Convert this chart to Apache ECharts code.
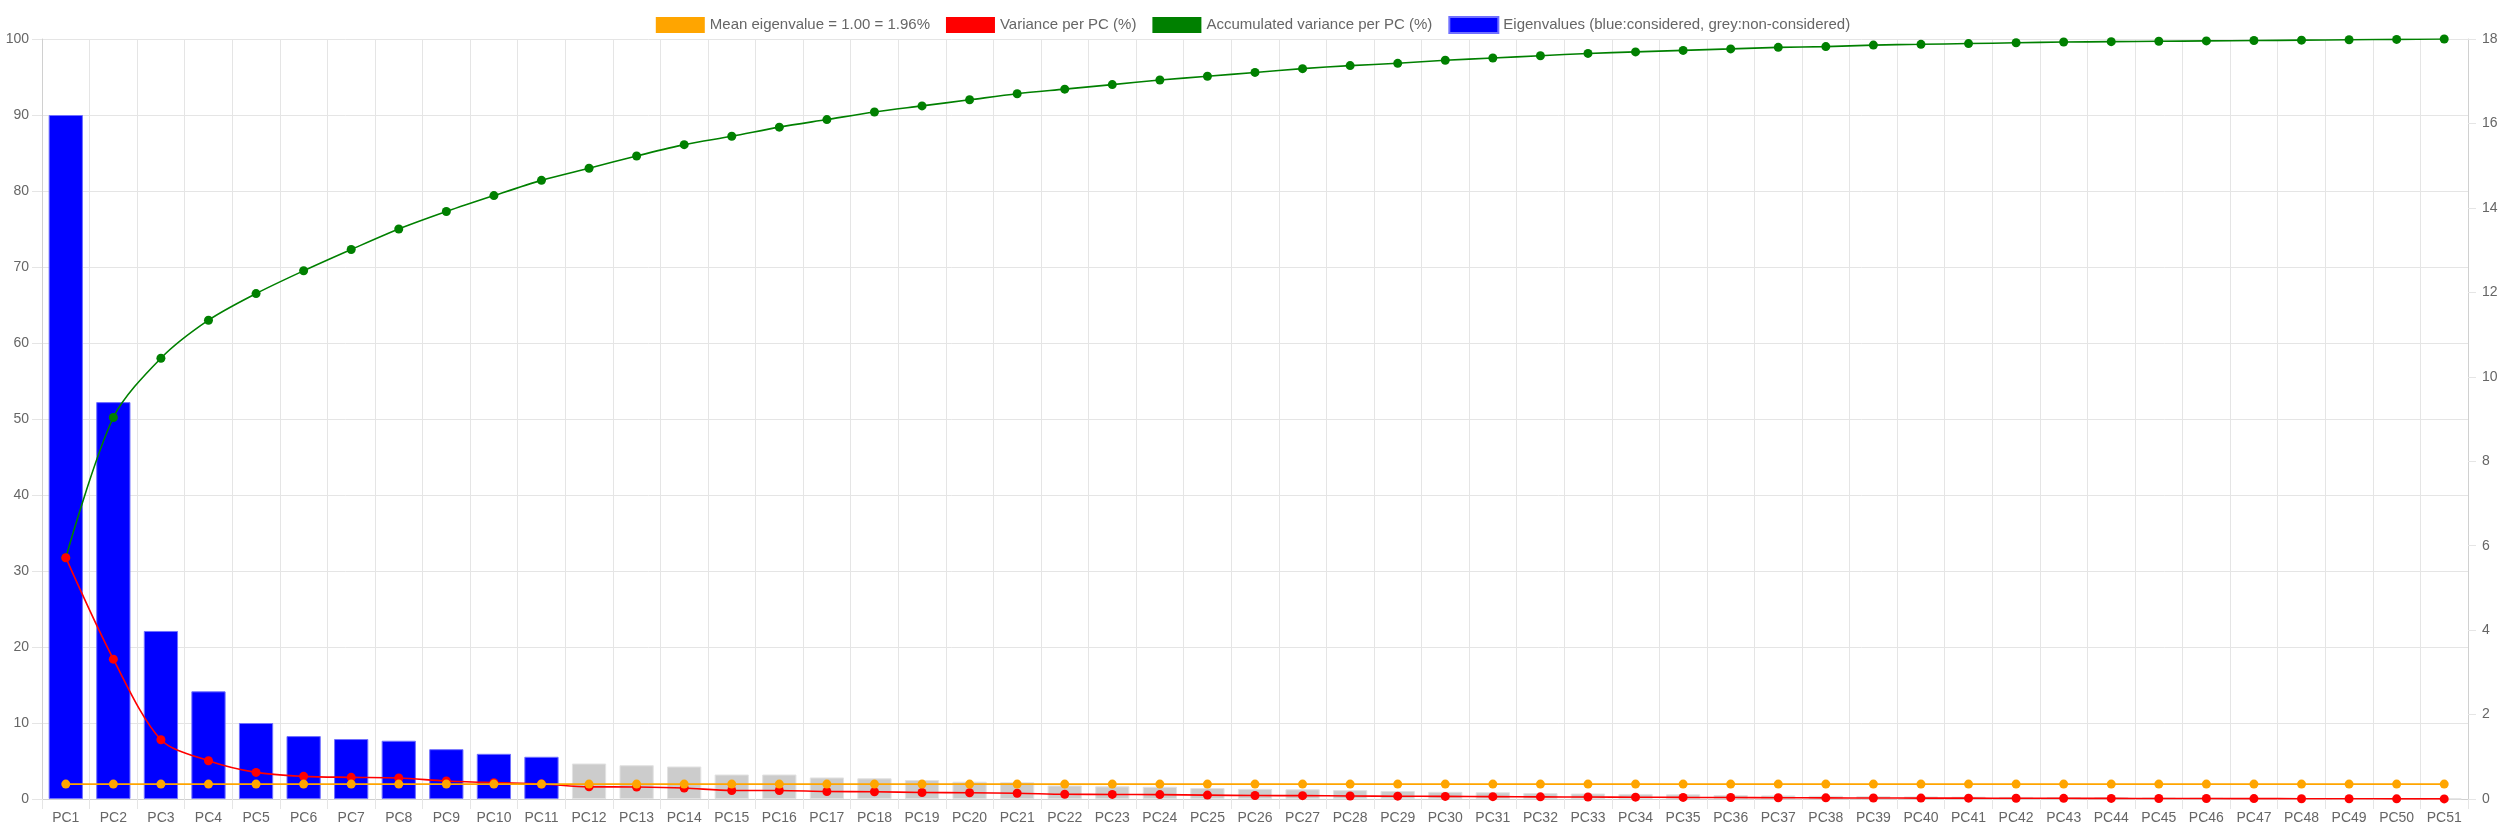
<!DOCTYPE html>
<html>
<head>
<meta charset="utf-8">
<script src="https://cdn.jsdelivr.net/npm/echarts@6/dist/echarts.min.js"></script>
<style>
html,body{margin:0;padding:0;background:#fff;}
#chart{width:2506px;height:835px;}
</style>
</head>
<body>
<div id="chart"></div>
<script>
const categories = [];
for (let i = 1; i <= 51; i++) categories.push('PC' + i);

const eigenvalues = [16.2, 9.4, 3.98, 2.55, 1.80, 1.49, 1.42, 1.38, 1.18, 1.07, 1.0,
  0.84, 0.80, 0.77, 0.58, 0.58, 0.51, 0.49, 0.45, 0.41, 0.395, 0.32, 0.30, 0.29, 0.26,
  0.24, 0.23, 0.21, 0.19, 0.17, 0.16, 0.14, 0.13, 0.12, 0.11, 0.095, 0.085, 0.075, 0.065,
  0.06, 0.055, 0.05, 0.045, 0.04, 0.035, 0.03, 0.025, 0.02, 0.015, 0.01, 0.005];

const variancePct = [31.75, 18.4, 7.8, 5.04, 3.5, 2.98, 2.85, 2.76, 2.37, 2.15, 1.97,
  1.6, 1.58, 1.45, 1.12, 1.12, 0.98, 0.96, 0.86, 0.82, 0.76, 0.62, 0.6, 0.58, 0.51,
  0.46, 0.44, 0.4, 0.37, 0.34, 0.31, 0.28, 0.26, 0.24, 0.21, 0.19, 0.17, 0.15, 0.13,
  0.12, 0.11, 0.1, 0.09, 0.08, 0.07, 0.06, 0.05, 0.04, 0.03, 0.02, 0.01];

const accumulatedPct = [31.75, 50.2, 58.0, 63.0, 66.5, 69.5, 72.3, 75.0, 77.3, 79.4, 81.4,
  83.0, 84.6, 86.1, 87.2, 88.4, 89.4, 90.4, 91.2, 92.0, 92.8, 93.4, 94.0, 94.6, 95.1,
  95.6, 96.1, 96.5, 96.8, 97.2, 97.5, 97.8, 98.1, 98.3, 98.5, 98.7, 98.9, 99.0, 99.2,
  99.3, 99.4, 99.5, 99.6, 99.65, 99.7, 99.75, 99.8, 99.85, 99.9, 99.95, 100];

const meanEigenPct = 1.96;
const meanLine = categories.map(() => meanEigenPct);
const consideredCount = 11;

const leftTicks = { min: 0, max: 100, interval: 10 };
const rightTicks = { min: 0, max: 18, interval: 2 };

const names = {
  mean: 'Mean eigenvalue = 1.00 = 1.96%',
  variance: 'Variance per PC (%)',
  accum: 'Accumulated variance per PC (%)',
  eigen: 'Eigenvalues (blue:considered, grey:non-considered)'
};

const gridColor = '#e5e5e5';
const textColor = '#666';
const font = 'Liberation Sans, Arial, Helvetica, sans-serif';

const chart = echarts.init(document.getElementById('chart'), null, { renderer: 'canvas' });

const barData = eigenvalues.map((v, i) => ({
  value: v,
  itemStyle: i < consideredCount
    ? { color: '#0000ff', borderColor: '#7070ff', borderWidth: 1 }
    : { color: '#cccccc', borderColor: '#e2e2e2', borderWidth: 1 }
}));

chart.setOption({
  animation: false,
  backgroundColor: '#fff',
  textStyle: { fontFamily: font },
  legend: {
    top: 11,
    left: 'center',
    icon: 'rect',
    itemWidth: 49,
    itemHeight: 16,
    itemGap: 16,
    textStyle: { color: textColor, fontSize: 15, fontFamily: font },
    data: [names.mean, names.variance, names.accum, names.eigen]
  },
  grid: { left: 42, right: 38, top: 39, bottom: 36, containLabel: false },
  xAxis: {
    type: 'category',
    data: categories,
    boundaryGap: true,
    axisLine: { show: true, lineStyle: { color: '#d0d0d0', width: 1 } },
    axisTick: { show: true, length: 10, interval: 0, lineStyle: { color: gridColor } },
    axisLabel: { interval: 0, color: textColor, fontSize: 14, margin: 12, fontFamily: font },
    splitLine: { show: true, interval: 0, lineStyle: { color: gridColor, width: 1 } }
  },
  yAxis: [
    {
      type: 'value',
      position: 'left',
      min: leftTicks.min, max: leftTicks.max, interval: leftTicks.interval,
      axisLine: { show: true, lineStyle: { color: '#d0d0d0' } },
      axisTick: { show: true, length: 10, lineStyle: { color: gridColor } },
      axisLabel: { color: textColor, fontSize: 14, margin: 13, fontFamily: font },
      splitLine: { show: true, lineStyle: { color: gridColor, width: 1 } }
    },
    {
      type: 'value',
      position: 'right',
      min: rightTicks.min, max: rightTicks.max, interval: rightTicks.interval,
      axisLine: { show: true, lineStyle: { color: '#d0d0d0' } },
      axisTick: { show: true, length: 8, lineStyle: { color: gridColor } },
      axisLabel: { color: textColor, fontSize: 14, margin: 14, fontFamily: font },
      splitLine: { show: false }
    }
  ],
  series: [
    {
      name: names.eigen,
      type: 'bar',
      yAxisIndex: 1,
      barWidth: '72%',
      itemStyle: { color: '#0000ff', borderColor: '#7070ff', borderWidth: 1 },
      data: barData,
      z: 1
    },
    {
      name: names.accum,
      type: 'line',
      yAxisIndex: 0,
      smooth: 0.3,
      symbol: 'circle',
      symbolSize: 9,
      lineStyle: { color: '#008000', width: 1.6 },
      itemStyle: { color: '#008000' },
      data: accumulatedPct,
      z: 3
    },
    {
      name: names.variance,
      type: 'line',
      yAxisIndex: 0,
      smooth: 0.3,
      symbol: 'circle',
      symbolSize: 9,
      lineStyle: { color: '#ff0000', width: 1.6 },
      itemStyle: { color: '#ff0000' },
      data: variancePct,
      z: 4
    },
    {
      name: names.mean,
      type: 'line',
      yAxisIndex: 0,
      symbol: 'circle',
      symbolSize: 9,
      lineStyle: { color: '#ffa500', width: 1.6 },
      itemStyle: { color: '#ffa500' },
      data: meanLine,
      z: 5
    }
  ]
});
</script>
</body>
</html>
